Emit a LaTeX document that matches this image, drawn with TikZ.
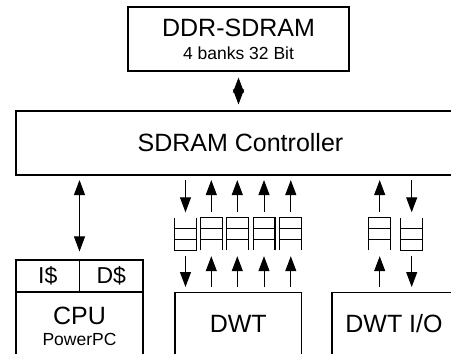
\documentclass[tikz,border=0pt]{standalone}
\usepackage{fontspec}
\setmainfont{Liberation Sans}
\usetikzlibrary{arrows.meta,calc}
\newcommand{\bigtxt}{\fontsize{25}{28}\selectfont}
\newcommand{\midtxt}{\fontsize{23}{26}\selectfont}
\newcommand{\smalltxt}{\fontsize{17.5}{20}\selectfont}
\tikzset{
  blk/.style={draw, line width=1.1pt, inner sep=0pt, align=center, font=\bigtxt},
  fifo/.style={inner sep=0pt, minimum width=21.5pt, minimum height=32pt},
  fifoline/.style={line width=1.1pt},
  arr/.style={-{Triangle[length=15pt,width=11pt]}, line width=1pt},
  dblarr/.style={{Triangle[length=15pt,width=11pt]}-{Triangle[length=15pt,width=11pt]},
                 line width=1pt}}

\begin{document}
\begin{tikzpicture}[x=1pt, y=-1pt]
  \useasboundingbox (0,0) rectangle (451,354);
  \clip (0,0) rectangle (451,354);
  % memory and controller
  \node[blk, minimum width=221pt, minimum height=64pt] (ddr) at (238.5,39)
    {DDR-SDRAM\\[-5pt]\smalltxt 4 banks 32 Bit};
  \node[blk, minimum width=449pt, minimum height=64pt] (ctrl) at (240.5,143)
    {SDRAM Controller};
  \draw[dblarr, shorten <=6pt, shorten >=6pt] (ddr.south) -- (ddr.south |- ctrl.north);
  % CPU with caches
  \node[blk, minimum width=127pt, minimum height=132pt] (cpu) at (79.5,326)
    {CPU\\[-7pt]\smalltxt PowerPC};
  \node[blk, minimum width=63.5pt, minimum height=32pt, font=\midtxt] (icache)
    at (47.75,276) {I\$};
  \node[blk, minimum width=63.5pt, minimum height=32pt, font=\midtxt] (dcache)
    at (111.25,276) {D\$};
  \draw[dblarr, shorten <=4.5pt, shorten >=8pt] (ctrl.south -| cpu) -- (cpu.north);
  % DWT units
  \node[blk, anchor=north, minimum width=126.5pt, text height=40pt, text depth=40pt] (dwt)
    at (238.25,292) {DWT};
  \node[blk, anchor=north, minimum width=124pt, text height=40pt, text depth=40pt] (dwtio)
    at (394,292) {DWT I/O};
  % FIFOs
  \node[fifo] (f1) at (185.5,234) {};
  \node[fifo] (f2) at (211.3,234) {};
  \node[fifo] (f3) at (237.3,234) {};
  \node[fifo] (f4) at (264,234) {};
  \node[fifo] (f5) at (290.8,234) {};
  \node[fifo] (fio1) at (379.7,234) {};
  \node[fifo] (fio2) at (411.7,234) {};
  \foreach \q in {f1,fio2}
    \draw[fifoline] (\q.north west) |- (\q.south east) -- (\q.north east);
  \foreach \q in {f2,f3,f4,f5,fio1}
    \draw[fifoline] (\q.south west) |- (\q.north east) -- (\q.south east);
  \foreach \q in {f1,f2,f3,f4,f5,fio1,fio2} {
    \draw[fifoline] ([yshift=5.3pt]\q.west) -- ([yshift=5.3pt]\q.east);
    \draw[fifoline] ([yshift=-5.3pt]\q.west) -- ([yshift=-5.3pt]\q.east);
  }
  % data paths
  \draw[arr, shorten <=4.5pt, shorten >=5.5pt] (ctrl.south -| f1) -- (f1.north);
  \foreach \q in {f2,f3,f4,f5,fio1}
    \draw[arr, shorten <=5.5pt, shorten >=4.5pt] (\q.north) -- (ctrl.south -| \q);
  \draw[arr, shorten <=4.5pt, shorten >=5.5pt] (ctrl.south -| fio2) -- (fio2.north);
  \draw[arr, shorten <=6pt, shorten >=5pt] (f1.south) -- (dwt.north -| f1);
  \foreach \q in {f2,f3,f4,f5}
    \draw[arr, shorten <=5pt, shorten >=6pt] (dwt.north -| \q) -- (\q.south);
  \draw[arr, shorten <=5pt, shorten >=6pt] (dwtio.north -| fio1) -- (fio1.south);
  \draw[arr, shorten <=6pt, shorten >=5pt] (fio2.south) -- (dwtio.north -| fio2);
\end{tikzpicture}
\end{document}
